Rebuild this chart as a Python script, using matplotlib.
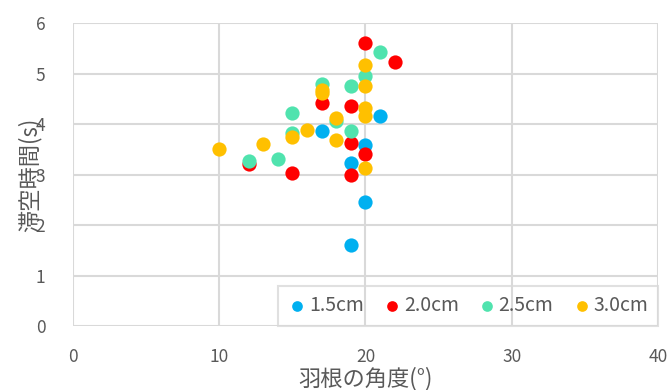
import matplotlib
matplotlib.use("Agg")
import matplotlib.pyplot as plt

plt.rcParams['font.family'] = ['Noto Sans CJK JP', 'DejaVu Sans']

# 羽根の角度(°) と 滞空時間(s)、羽根の長さごと
x_15 = [17, 19, 19, 20, 20, 21]
y_15 = [3.86, 3.22, 1.60, 3.58, 2.46, 4.16]

x_20 = [20, 22, 17, 19, 19, 20, 19, 15, 12]
y_20 = [5.60, 5.23, 4.42, 4.36, 3.63, 3.40, 2.99, 3.03, 3.21]

x_25 = [21, 20, 17, 19, 15, 18, 19, 15, 14, 12]
y_25 = [5.43, 4.95, 4.80, 4.75, 4.22, 4.06, 3.86, 3.82, 3.31, 3.26]

x_30 = [20, 20, 17, 17, 20, 20, 18, 16, 15, 18, 13, 10, 20]
y_30 = [5.17, 4.75, 4.67, 4.61, 4.32, 4.16, 4.12, 3.88, 3.74, 3.68, 3.60, 3.50, 3.13]

labels = ['1.5cm', '2.0cm', '2.5cm', '3.0cm']
colors = ['#00B0F0', '#FF0000', '#50E3AE', '#FFC000']

fig = plt.figure(figsize=(6.7, 3.9), dpi=100)
ax = fig.add_axes([0.109, 0.164, 0.873, 0.777])

series = [(x_15, y_15), (x_20, y_20), (x_25, y_25), (x_30, y_30)]
for (xs, ys), lab, c in zip(series, labels, colors):
    ax.scatter(xs, ys, s=105, color=c, label=lab, linewidths=0, zorder=3)

ax.set_xlim(0, 40)
ax.set_ylim(0, 6)
ax.set_xticks([0, 10, 20, 30, 40])
ax.set_yticks(range(7))
ax.grid(color='#d9d9d9', linewidth=1.5, zorder=0)
ax.set_axisbelow(True)
for sp in ax.spines.values():
    sp.set_visible(False)
ax.tick_params(length=0, labelsize=12.5, labelcolor='#595959')
ax.tick_params(axis='x', pad=16)
ax.tick_params(axis='y', pad=20)

ax.set_xlabel('羽根の角度(°)', fontsize=16, color='#595959', labelpad=0)
ax.set_ylabel('滞空時間(s)', fontsize=16, color='#595959', labelpad=-4)

leg = ax.legend(loc='lower right', ncol=4, fontsize=14, frameon=True,
                borderaxespad=0, markerscale=0.75, handlelength=1.0,
                handletextpad=0.1, columnspacing=0.95, borderpad=0.5,
                fancybox=False, labelcolor='#595959')
leg.get_frame().set_facecolor('none')
leg.get_frame().set_edgecolor('#d9d9d9')
leg.get_frame().set_linewidth(1.5)

fig.savefig('out.png', dpi=100)
